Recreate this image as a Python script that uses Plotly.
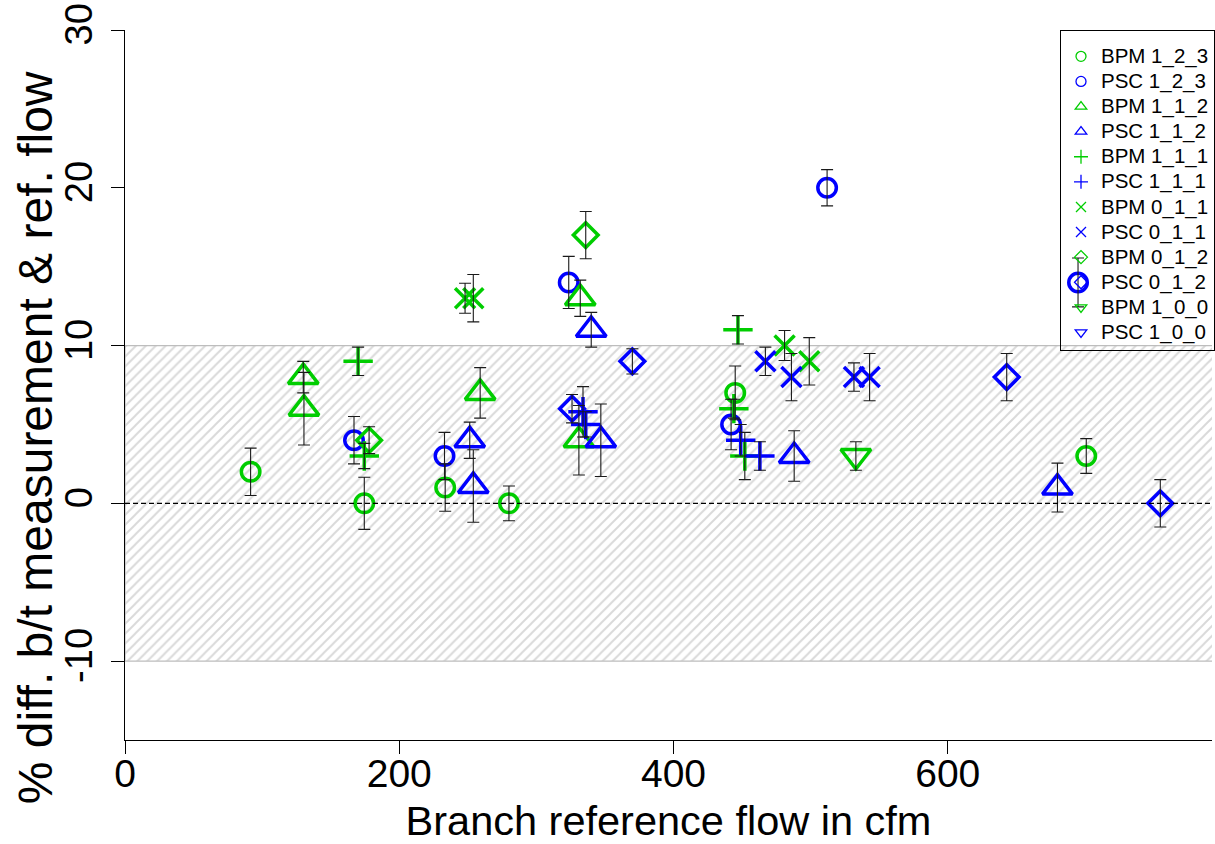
import plotly.graph_objects as go

# Per-series readings: branch reference flow (cfm), % difference, error half-width
bpm_123_x = [91.6, 174.5, 233.5, 280, 445, 701]
bpm_123_y = [2, 0, 1, 0, 7, 3]
bpm_123_e = [1.5, 1.65, 1.5, 1.1, 1.7, 1.1]

psc_123_x = [167, 233, 323.6, 442, 512, 695]
psc_123_y = [4, 3, 14, 5, 20, 14]
psc_123_e = [1.5, 1.5, 1.65, 1.6, 1.15, 1.55]

bpm_112_x = [130, 130.5, 259, 332, 331]
bpm_112_y = [8, 6, 7, 13, 4]
bpm_112_e = [1.0, 2.3, 1.6, 1.15, 2.2]

psc_112_x = [251.4, 254, 340, 347, 488, 680]
psc_112_y = [4, 1.1, 11, 4, 3, 1]
psc_112_e = [1.15, 2.3, 1.1, 2.3, 1.6, 1.55]

bpm_111_x = [170, 174.5, 444, 447, 452]
bpm_111_y = [9, 3, 6, 11, 3]
bpm_111_e = [0.9, 0.8, 0.6, 0.9, 1.5]

psc_111_x = [334, 336, 449, 463]
psc_111_y = [5.8, 5.0, 4.0, 3.0]
psc_111_e = [1.6, 0.8, 1.0, 0.9]

bpm_011_x = [248, 254, 481, 499]
bpm_011_y = [13, 13, 10, 9]
bpm_011_e = [0.95, 1.5, 0.95, 1.5]

psc_011_x = [467, 486, 531.6, 543]
psc_011_y = [9, 8, 8, 8]
psc_011_e = [0.9, 1.5, 0.9, 1.5]

bpm_012_x = [178, 336]
bpm_012_y = [4, 17]
bpm_012_e = [0.85, 1.5]

psc_012_x = [326, 370, 643, 755]
psc_012_y = [6, 9, 8, 0]
psc_012_e = [0.9, 0.8, 1.5, 1.5]

bpm_100_x = [533]
bpm_100_y = [3]
bpm_100_e = [0.9]

psc_100_x = []
psc_100_y = []
psc_100_e = []

# Tolerance band and axis limits
BAND_LO, BAND_HI = -10, 10
X_RANGE = [0, 792.7]
Y_RANGE = [-15, 30]

GREEN = "#00CD00"
BLUE = "#0000FF"
FONT = "Liberation Sans, Arial, sans-serif"

series = [
    ("BPM 1_2_3", bpm_123_x, bpm_123_y, bpm_123_e, GREEN, "circle-open", 18.5),
    ("PSC 1_2_3", psc_123_x, psc_123_y, psc_123_e, BLUE, "circle-open", 18.5),
    ("BPM 1_1_2", bpm_112_x, bpm_112_y, bpm_112_e, GREEN, "triangle-up-open", 26),
    ("PSC 1_1_2", psc_112_x, psc_112_y, psc_112_e, BLUE, "triangle-up-open", 26),
    ("BPM 1_1_1", bpm_111_x, bpm_111_y, bpm_111_e, GREEN, "cross-thin-open", 21),
    ("PSC 1_1_1", psc_111_x, psc_111_y, psc_111_e, BLUE, "cross-thin-open", 21),
    ("BPM 0_1_1", bpm_011_x, bpm_011_y, bpm_011_e, GREEN, "x-thin-open", 20),
    ("PSC 0_1_1", psc_011_x, psc_011_y, psc_011_e, BLUE, "x-thin-open", 20),
    ("BPM 0_1_2", bpm_012_x, bpm_012_y, bpm_012_e, GREEN, "diamond-open", 19),
    ("PSC 0_1_2", psc_012_x, psc_012_y, psc_012_e, BLUE, "diamond-open", 19),
    ("BPM 1_0_0", bpm_100_x, bpm_100_y, bpm_100_e, GREEN, "triangle-down-open", 26),
    ("PSC 1_0_0", psc_100_x, psc_100_y, psc_100_e, BLUE, "triangle-down-open", 26),
]

fig = go.Figure()

# hatched +/-10 % band
fig.add_trace(go.Scatter(
    x=[X_RANGE[0], 2000, 2000, X_RANGE[0], X_RANGE[0]],
    y=[BAND_LO, BAND_LO, BAND_HI, BAND_HI, BAND_LO],
    mode="lines", fill="toself",
    line=dict(color="#bdbdbd", width=1.2),
    fillcolor="rgba(0,0,0,0)",
    fillpattern=dict(shape="/", fgcolor="#b4b4b4", bgcolor="white",
                     size=7, solidity=0.28),
    showlegend=False, hoverinfo="skip",
))

# markers
for name, xs, ys, es, col, sym, sz in series:
    fig.add_trace(go.Scatter(
        x=xs, y=ys, mode="markers", name=name, showlegend=False,
        marker=dict(symbol=sym, size=sz, color=col, line=dict(color=col, width=3.5)),
    ))

# error bars drawn over the markers
for name, xs, ys, es, col, sym, sz in series:
    fig.add_trace(go.Scatter(
        x=xs, y=ys, mode="markers", showlegend=False, hoverinfo="skip",
        marker=dict(size=1, opacity=0),
        error_y=dict(type="data", array=es, color="#1a1a1a", thickness=1.1, width=6),
    ))

# legend entries with small symbols
for name, xs, ys, es, col, sym, sz in series:
    fig.add_trace(go.Scatter(
        x=[None], y=[None], mode="markers",
        name=f'<span style="font-size:20.5px">{name}</span>',
        marker=dict(symbol=sym, size=10, color=col, line=dict(color=col, width=1.3)),
    ))

# zero reference line
fig.add_hline(y=0, line=dict(color="black", width=1.2, dash="5px,3px"))

# y-axis title
fig.add_annotation(
    text="% diff. b/t measurement & ref. flow",
    xref="paper", yref="paper", x=(35 - 125) / 1090, y=(740 - 438) / 710,
    xanchor="center", yanchor="middle", textangle=-90, showarrow=False,
    font=dict(size=48, family=FONT, color="black"),
)

fig.update_layout(
    width=1215, height=844,
    margin=dict(l=125, r=0, t=30, b=104),
    paper_bgcolor="white", plot_bgcolor="white",
    font=dict(family=FONT, color="black"),
    showlegend=True,
    legend=dict(
        x=(1063 - 125) / 1090, y=1, xanchor="left", yanchor="top",
        bgcolor="rgba(255,255,255,0)", bordercolor="black", borderwidth=1,
        font=dict(size=17, family=FONT), itemsizing="trace",
        tracegroupgap=0,
        title=dict(text=" ", font=dict(size=6)),
    ),
    xaxis=dict(
        range=X_RANGE, showgrid=False, zeroline=False,
        showline=True, linecolor="black", linewidth=1.2,
        ticks="outside", ticklen=13, tickwidth=1.2, tickcolor="black",
        tickvals=[0, 200, 400, 600, 800], ticktext=["0", "200", "400", "600", "800"],
        tickfont=dict(size=39), ticklabelstandoff=-14,
        title=dict(text="Branch reference flow in cfm", font=dict(size=41.5), standoff=14),
    ),
    yaxis=dict(
        range=Y_RANGE, showgrid=False, zeroline=False,
        showline=True, linecolor="black", linewidth=1.2,
        ticks="outside", ticklen=13, tickwidth=1.2, tickcolor="black",
        tickvals=[-10, 0, 10, 20, 30], ticktext=["-10", "0", "10", "20", "30"],
        tickangle=-90, tickfont=dict(size=38), ticklabelstandoff=4,
    ),
)

fig.write_html("out.html")
